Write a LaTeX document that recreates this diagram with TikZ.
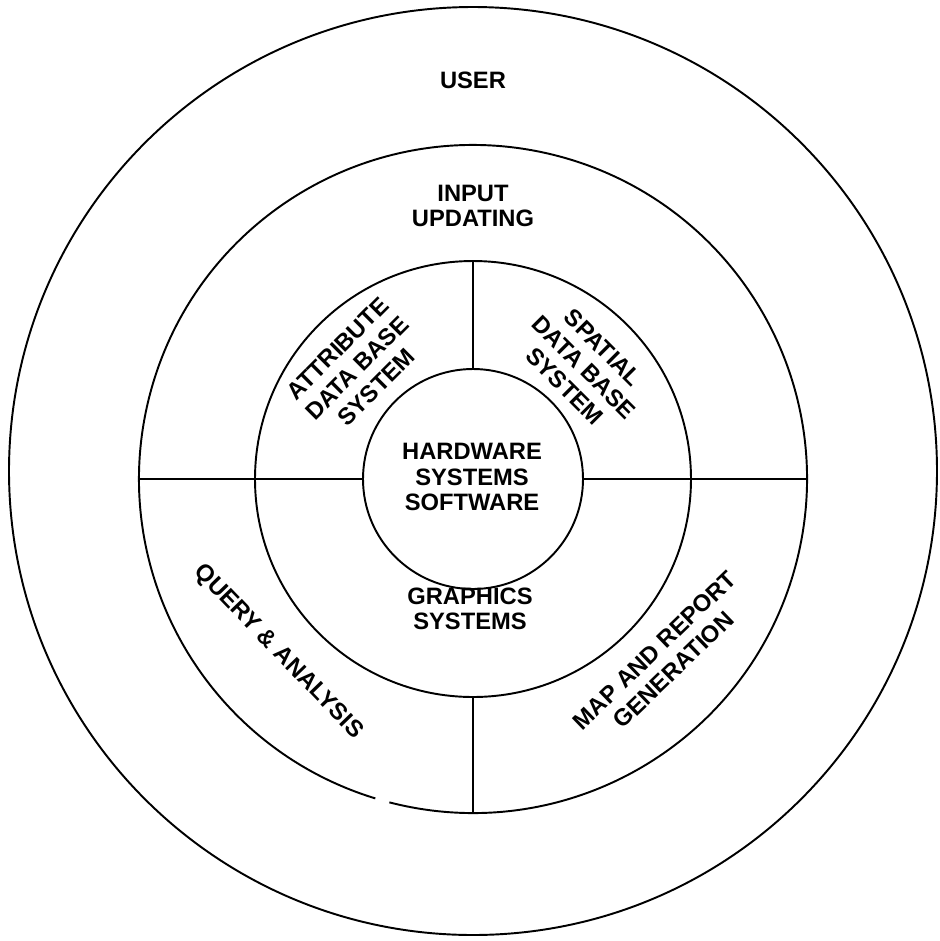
\documentclass[tikz,border=0pt]{standalone}
\usepackage{fontspec}
\setmainfont{Liberation Sans}
\begin{document}
\begin{tikzpicture}[x=0.02cm, y=0.02cm,
    ring/.style={line width=1.1pt},
    divider/.style={line width=0.9pt},
    lbl/.style={font=\fontsize{13.5}{14.5}\selectfont\bfseries, align=center, inner sep=0pt},
    tilted/.style={lbl, font=\fontsize{13.5}{15.5}\selectfont\bfseries}]
	\useasboundingbox (0,0) rectangle (940,-941);
	\coordinate (O) at (473,-471);
	\coordinate (C) at (473,-479);
	% rings
	\draw[ring] (O) circle (464);
	\draw[ring] (C) ++(255.5:334) arc (255.5:613:334);
	\draw[ring] (C) circle (218);
	\draw[ring] (C) circle (110);
	% ends of the dividers
	\path (C) ++(90:218) coordinate (t3)  (C) ++(90:110) coordinate (t4)
	      (C) ++(180:334) coordinate (l2) (C) ++(180:110) coordinate (l4)
	      (C) ++(0:334) coordinate (r2)   (C) ++(0:110) coordinate (r4)
	      (C) ++(-90:218) coordinate (b3) (C) ++(-90:334) coordinate (b2);
	\draw[divider] (t3) -- (t4);
	\draw[divider] (l2) -- (l4);
	\draw[divider] (r4) -- (r2);
	\draw[divider] (b3) -- (b2);
	% labels
	\node[lbl] (user) at (473,-80) {USER};
	\node[lbl] (input) at (473,-206) {INPUT\\UPDATING};
	\node[lbl] (hw) at (472,-477) {HARDWARE\\SYSTEMS\\SOFTWARE};
	\node[lbl] (gfx) at (470,-609) {GRAPHICS\\SYSTEMS};
	\node[tilted, rotate=45] (attr) at (357,-368) {ATTRIBUTE\\DATA BASE\\SYSTEM};
	\node[tilted, rotate=-45] (spat) at (584,-367) {SPATIAL\\DATA BASE\\SYSTEM};
	\node[tilted, rotate=-46] (query) at (278,-652) {QUERY \& ANALYSIS};
	\node[tilted, rotate=44] (map) at (664,-660) {MAP AND REPORT\\GENERATION};
\end{tikzpicture}
\end{document}
